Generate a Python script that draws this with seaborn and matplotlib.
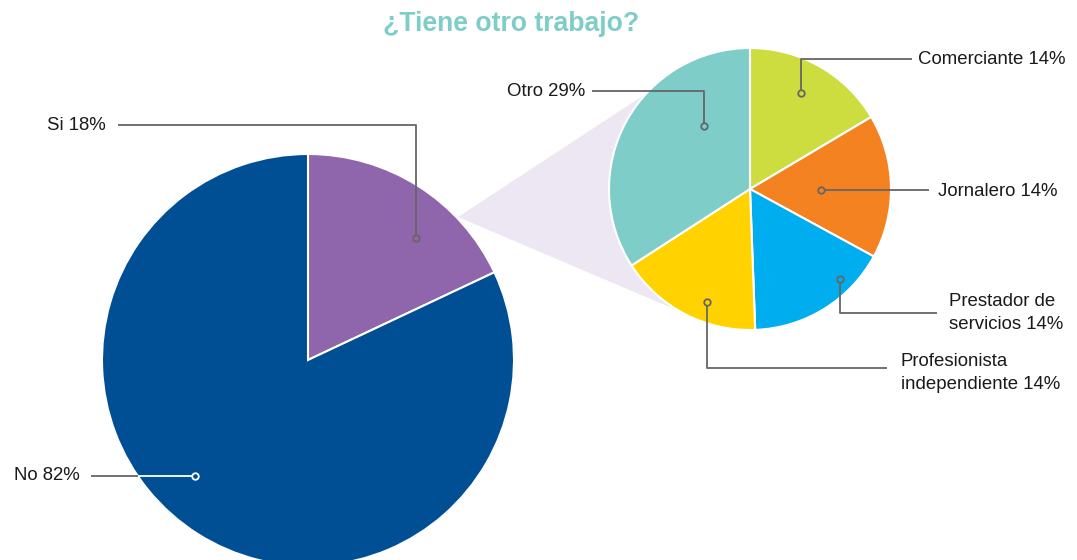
import numpy as np
import matplotlib
matplotlib.use("Agg")
import matplotlib.pyplot as plt
import seaborn as sns
from matplotlib.patches import Polygon

sns.set_theme(style="white")
plt.rcParams['font.family'] = ['Liberation Sans', 'DejaVu Sans']

# ---- data ----
main_labels = ["Si", "No"]
main_values = [18, 82]
main_colors = ["#8f66ab", "#004f95"]

sub_labels = ["Comerciante", "Jornalero", "Prestador de\nservicios",
              "Profesionista\nindependiente", "Otro"]
sub_values = [14, 14, 14, 14, 29]
sub_colors = ["#cddc3f", "#f58220", "#00aeef", "#ffd200", "#7ecdc8"]

title = "¿Tiene otro trabajo?"

W, H = 1077, 560
fig = plt.figure(figsize=(W / 100, H / 100), dpi=100)
ax = fig.add_axes([0, 0, 1, 1])

def Y(y):
    return H - y

# main pie
c1 = (308, Y(360)); r1 = 206
ax.pie(main_values, colors=sns.color_palette(main_colors), startangle=90,
       counterclock=False, center=c1, radius=r1,
       wedgeprops=dict(edgecolor="white", linewidth=1.5))

# sub pie
c2 = (750, Y(189)); r2 = 141
ax.pie(sub_values, colors=sns.color_palette(sub_colors), startangle=90,
       counterclock=False, center=c2, radius=r2,
       wedgeprops=dict(edgecolor="white", linewidth=1.5, zorder=3))

# connector
poly = Polygon([(458, Y(217)), (647, Y(93)), (686, Y(314))], closed=True,
               facecolor="#ede7f3", edgecolor="none", zorder=0.5)
ax.add_patch(poly)

LC = "#666666"
TC = "#1a1a1a"
def leader(pts, color=LC):
    xs = [p[0] for p in pts]; ys = [Y(p[1]) for p in pts]
    ax.plot(xs, ys, color=color, lw=1.3, zorder=5, solid_capstyle="butt")

def dot(x, y, fc, ec=LC):
    ax.scatter([x], [Y(y)], s=22, facecolor=fc, edgecolor=ec, linewidth=1.3, zorder=6)

fs = 13.4
# Si
leader([(118, 125), (416, 125), (416, 236)])
dot(416, 238, main_colors[0])
ax.text(106, Y(125), f"{main_labels[0]} {main_values[0]}%", ha="right", va="center", fontsize=fs, color=TC)
# No
edge_x = 308 - np.sqrt(r1**2 - (476 - 360)**2)
leader([(91, 476), (edge_x, 476)])
leader([(edge_x, 476), (193, 476)], color="white")
dot(195, 476, main_colors[1], ec="white")
ax.text(80, Y(476), f"{main_labels[1]} {main_values[1]}%", ha="right", va="center", fontsize=fs, color=TC)

# Otro
leader([(592, 91), (704, 91), (704, 124)])
dot(704, 126, sub_colors[4])
ax.text(585, Y(91), f"{sub_labels[4]} {sub_values[4]}%", ha="right", va="center", fontsize=fs, color=TC)
# Comerciante
leader([(912, 59), (801, 59), (801, 91)])
dot(801, 93, sub_colors[0])
ax.text(918, Y(59), f"{sub_labels[0]} {sub_values[0]}%", ha="left", va="center", fontsize=fs, color=TC)
# Jornalero
leader([(929, 190), (823, 190)])
dot(821, 190, sub_colors[1])
ax.text(938, Y(191), f"{sub_labels[1]} {sub_values[1]}%", ha="left", va="center", fontsize=fs, color=TC)
# Prestador
leader([(937, 313), (840, 313), (840, 281)])
dot(840, 279, sub_colors[2])
ax.text(949, Y(313), f"{sub_labels[2]} {sub_values[2]}%", ha="left", va="center", fontsize=fs, color=TC, linespacing=1.45)
# Profesionista
leader([(887, 368), (707, 368), (707, 304)])
dot(707, 302, sub_colors[3])
ax.text(901, Y(373), f"{sub_labels[3]} {sub_values[3]}%", ha="left", va="center", fontsize=fs, color=TC, linespacing=1.45)

ax.text(511, Y(24), title, ha="center", va="center", fontsize=19.2, fontweight="bold", color="#7ecdc8")

ax.set_xlim(0, W)
ax.set_ylim(0, H)
ax.set_aspect("auto")
ax.axis("off")

fig.savefig("out.png", dpi=100)
